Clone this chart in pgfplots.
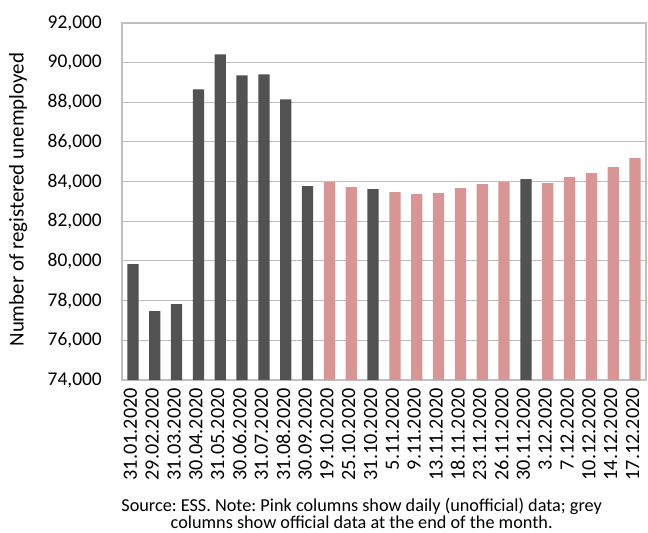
\documentclass[border=0pt]{standalone}
\usepackage{pgfplots}
\pgfplotsset{compat=1.18}
\usepackage{fontspec}
\setmainfont{Carlito}
\frenchspacing
\definecolor{darkbar}{HTML}{525252}
\definecolor{pinkbar}{HTML}{D99594}
\definecolor{gridc}{HTML}{BFBFBF}
\begin{document}
\fontsize{19}{22}\selectfont
\begin{tikzpicture}
\path[use as bounding box] (-122bp,-153bp) rectangle (526bp,380bp);
\begin{axis}[
  at={(0,0)}, anchor=south west,
  scale only axis,
  width=524bp, height=357bp,
  xmin=-0.5, xmax=23.5,
  ymin=74000, ymax=92000,
  ytick={74000,76000,...,92000},
  xtick={0,...,23},
  xticklabels={31.01.2020,29.02.2020,31.03.2020,30.04.2020,31.05.2020,30.06.2020,31.07.2020,31.08.2020,30.09.2020,19.10.2020,25.10.2020,31.10.2020,5.11.2020,9.11.2020,13.11.2020,18.11.2020,23.11.2020,26.11.2020,30.11.2020,3.12.2020,7.12.2020,10.12.2020,14.12.2020,17.12.2020},
  xticklabel style={xshift=-2.5bp, yshift=-8bp, rotate=90, anchor=east, inner sep=0pt, font=\fontsize{20.3}{22}\selectfont},
  yticklabel style={anchor=east, inner sep=0pt, xshift=-20bp, font=\fontsize{19.5}{22}\selectfont},
  /pgf/number format/assume math mode=true,
  /pgf/number format/.cd, 1000 sep={,}, /pgfplots/.cd,
  scaled y ticks=false,
  major tick length=0pt,
  ymajorgrids,
  grid style={gridc, line width=1bp},
  axis line style={gridc, line width=1.2bp},
  ylabel={Number of registered unemployed},
  ylabel style={at={(axis description cs:-0.198,0.505)}, anchor=center, inner sep=0pt, font=\fontsize{21}{22}\selectfont},
  ybar, bar width=11.3bp,
  every axis plot/.append style={bar shift=0pt, draw=none},
  clip=false,
]
\addplot[fill=darkbar] coordinates {
(0,79843) (1,77476) (2,77828) (3,88657) (4,90421) (5,89363) (6,89413) (7,88154) (8,83772) (11,83621) (18,84125)
};
\addplot[fill=pinkbar] coordinates {
(9,83973) (10,83722) (12,83470) (13,83369) (14,83419) (15,83672) (16,83873) (17,83973) (19,83923) (20,84226) (21,84427) (22,84729) (23,85183)
};
\end{axis}
\node[align=center, font=\fontsize{18.3}{17}\selectfont, inner sep=0pt] at (239.7bp,-133.5bp) {Source: ESS. Note: Pink columns show daily (unofficial) data; grey\\columns show official data at the end of the month.};
\end{tikzpicture}
\end{document}
